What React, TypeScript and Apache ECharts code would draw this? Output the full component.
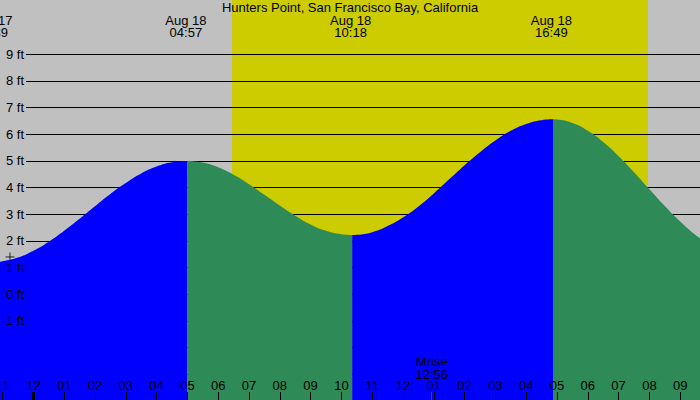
import React, { useEffect, useRef } from "react";
import * as echarts from "echarts";

const FONT = '"Liberation Sans", Arial, Helvetica, sans-serif';
const TITLE = "Hunters Point, San Francisco Bay, California";

// Time axis in hours from Aug 18 00:00
const hourValues = [-1, 0, 1, 2, 3, 4, 5, 6, 7, 8, 9, 10, 11, 12, 13, 14, 15, 16, 17, 18, 19, 20, 21];
const hourLabels = [
  "11", "12", "01", "02", "03", "04", "05", "06", "07", "08", "09", "10",
  "11", "12", "01", "02", "03", "04", "05", "06", "07", "08", "09",
];
const midnightTicks = [0];

// Height axis in feet
const FT_MIN = -4;
const FT_MAX = 9;
const ftValues = [-1, 0, 1, 2, 3, 4, 5, 6, 7, 8, 9];
const ftLabels = ["-1 ft", "0 ft", "1 ft", "2 ft", "3 ft", "4 ft", "5 ft", "6 ft", "7 ft", "8 ft", "9 ft"];

// Visible window of the tide plot (hours, feet)
const VIEW_Y_MIN = -3.963;
const VIEW_Y_MAX = 11.035;
const VIEW_X_START = -1.084;
const VIEW_X_END = 21.643;

// Tide heights [hour, ft]
const rising1: [number, number][] = [
  [VIEW_X_START, 1.22], [-1, 1.24], [-0.5, 1.38], [0, 1.63], [0.5, 1.97], [1, 2.38],
  [1.5, 2.83], [2, 3.3], [2.5, 3.76], [3, 4.17], [3.5, 4.53], [4, 4.79], [4.5, 4.95], [5.0, 5.0],
];
const falling1: [number, number][] = [
  [5.0, 5.0], [5.5, 4.94], [6, 4.76], [6.5, 4.48], [7, 4.13], [7.5, 3.73], [8, 3.33],
  [8.5, 2.95], [9, 2.62], [9.5, 2.38], [10, 2.25], [10.35, 2.22],
];
const rising2: [number, number][] = [
  [10.35, 2.22], [10.5, 2.23], [11, 2.33], [11.5, 2.56], [12, 2.88], [12.5, 3.29], [13, 3.78],
  [13.5, 4.31], [14, 4.84], [14.5, 5.33], [15, 5.77], [15.5, 6.13], [16, 6.39], [16.5, 6.53], [16.87, 6.56],
];
const falling2: [number, number][] = [
  [16.87, 6.56], [17, 6.55], [17.5, 6.42], [18, 6.13], [18.5, 5.71], [19, 5.18], [19.5, 4.58],
  [20, 3.94], [20.5, 3.31], [21, 2.73], [21.5, 2.22], [VIEW_X_END, 2.1],
];

// Daylight (sunrise / sunset) in hours
const daylight: [number, number][] = [[6.45, VIEW_Y_MAX], [19.95, VIEW_Y_MAX]];

// Tide events
const events = [
  { t: -1.35, date: "Aug 17", time: "22:39" },
  { t: 4.95, date: "Aug 18", time: "04:57" },
  { t: 10.3, date: "Aug 18", time: "10:18" },
  { t: 16.817, date: "Aug 18", time: "16:49" },
];
const moonrise = { t: 12.933, label: "Mrise", time: "12:56" };
const crossMarker: [number, number][] = [[-0.76, 1.4]];

const BLUE = "#0000ff";
const GREEN = "#2e8b57";
const YELLOW = "#cccc00";
const GRAY = "#c0c0c0";

function tideSeries(data: [number, number][], color: string) {
  return {
    type: "line",
    xAxisIndex: 0,
    yAxisIndex: 0,
    data,
    smooth: 0.5,
    symbol: "none",
    showSymbol: false,
    lineStyle: { width: 0, opacity: 0 },
    areaStyle: { color, opacity: 1, origin: "start" },
    silent: true,
    z: 2,
  };
}

const hiddenAxisParts = {
  axisLine: { show: false, onZero: false },
  axisLabel: { show: false },
  splitLine: { show: false },
};

export default function App() {
  const ref = useRef<HTMLDivElement>(null);
  useEffect(() => {
    const chart = echarts.init(ref.current!, null, { renderer: "svg" });
    const option: any = {
      animation: false,
      backgroundColor: GRAY,
      title: {
        text: TITLE,
        left: "center",
        top: 1,
        padding: 0,
        textStyle: { fontSize: 13, fontWeight: "normal", color: "#000", fontFamily: FONT, lineHeight: 13 },
      },
      grid: [
        { left: 0, right: 0, top: 0, bottom: 0, containLabel: false, outerBoundsMode: "none" },
        { left: 26, right: 0, top: 54.27, bottom: -0.98, containLabel: false, outerBoundsMode: "none" },
      ],
      xAxis: [
        {
          type: "value",
          gridIndex: 0,
          min: VIEW_X_START,
          max: VIEW_X_END,
          position: "bottom",
          z: 5,
          axisLine: { show: false, onZero: false },
          splitLine: { show: false },
          axisTick: { show: true, inside: true, length: 8, customValues: hourValues, lineStyle: { color: "#000", width: 1 } },
          axisLabel: {
            show: true,
            inside: true,
            margin: 8,
            customValues: hourValues,
            color: "#000",
            fontSize: 13,
            fontFamily: FONT,
            lineHeight: 13,
            hideOverlap: false,
            formatter: (v: number) => {
              const i = hourValues.indexOf(Math.round(v));
              return i >= 0 ? hourLabels[i] : "";
            },
          },
        },
        {
          type: "value",
          gridIndex: 0,
          min: VIEW_X_START,
          max: VIEW_X_END,
          position: "bottom",
          z: 6,
          ...hiddenAxisParts,
          axisTick: { show: true, inside: true, length: 8, customValues: midnightTicks, lineStyle: { color: "#000", width: 3 } },
        },
        {
          type: "value",
          gridIndex: 0,
          min: VIEW_X_START,
          max: VIEW_X_END,
          position: "bottom",
          z: 6,
          ...hiddenAxisParts,
          axisTick: { show: true, inside: true, length: 8, customValues: [moonrise.t], lineStyle: { color: "#ff0000", width: 1 } },
        },
        {
          type: "value",
          gridIndex: 1,
          min: 0,
          max: 1,
          show: false,
        },
      ],
      yAxis: [
        {
          type: "value",
          gridIndex: 0,
          min: VIEW_Y_MIN,
          max: VIEW_Y_MAX,
          show: false,
        },
        {
          type: "value",
          gridIndex: 1,
          position: "left",
          min: FT_MIN,
          max: FT_MAX,
          interval: 1,
          z: 1,
          axisLine: { show: false, onZero: false },
          axisTick: { show: false },
          axisLabel: { show: false },
          splitLine: { show: true, lineStyle: { color: "#000", width: 1 } },
        },
      ],
      series: [
        {
          type: "line",
          xAxisIndex: 0,
          yAxisIndex: 0,
          data: daylight,
          symbol: "none",
          showSymbol: false,
          lineStyle: { width: 0, opacity: 0 },
          areaStyle: { color: YELLOW, opacity: 1, origin: "start" },
          silent: true,
          z: 0,
        },
        tideSeries(rising1, BLUE),
        tideSeries(falling1, GREEN),
        tideSeries(rising2, BLUE),
        tideSeries(falling2, GREEN),
        {
          type: "scatter",
          xAxisIndex: 0,
          yAxisIndex: 0,
          data: crossMarker,
          symbol: "path://M0,5L10,5M5,0L5,10",
          symbolSize: [9, 9],
          itemStyle: { color: "none", borderColor: "#000", borderWidth: 1 },
          silent: true,
          z: 6,
        },
      ],
    };
    chart.setOption(option);

    const px = (t: number) => chart.convertToPixel({ xAxisIndex: 0 }, t) as number;
    const py = (v: number) => chart.convertToPixel({ yAxisIndex: 1 }, v) as number;
    const textStyle = {
      fill: "#000",
      fontSize: 13,
      fontFamily: FONT,
      lineHeight: 12,
      align: "center",
      verticalAlign: "top",
    };
    const graphics: any[] = events.map((e) => ({
      type: "text",
      x: px(e.t),
      y: 14,
      z: 100,
      silent: true,
      style: { ...textStyle, text: `${e.date}\n${e.time}` },
    }));
    graphics.push({
      type: "text",
      x: px(moonrise.t),
      y: 355.5,
      z: 100,
      silent: true,
      style: { ...textStyle, lineHeight: 12.5, text: `${moonrise.label}\n${moonrise.time}` },
    });
    ftValues.forEach((v, i) => {
      graphics.push({
        type: "text",
        x: 24,
        y: py(v),
        z: 100,
        silent: true,
        style: {
          fill: "#000",
          fontSize: 13,
          fontFamily: FONT,
          align: "right",
          verticalAlign: "middle",
          text: ftLabels[i],
        },
      });
    });
    chart.setOption({ graphic: graphics });

    return () => chart.dispose();
  }, []);
  return <div ref={ref} style={{ position: "fixed", left: 0, top: 0, width: 700, height: 400 }} />;
}
